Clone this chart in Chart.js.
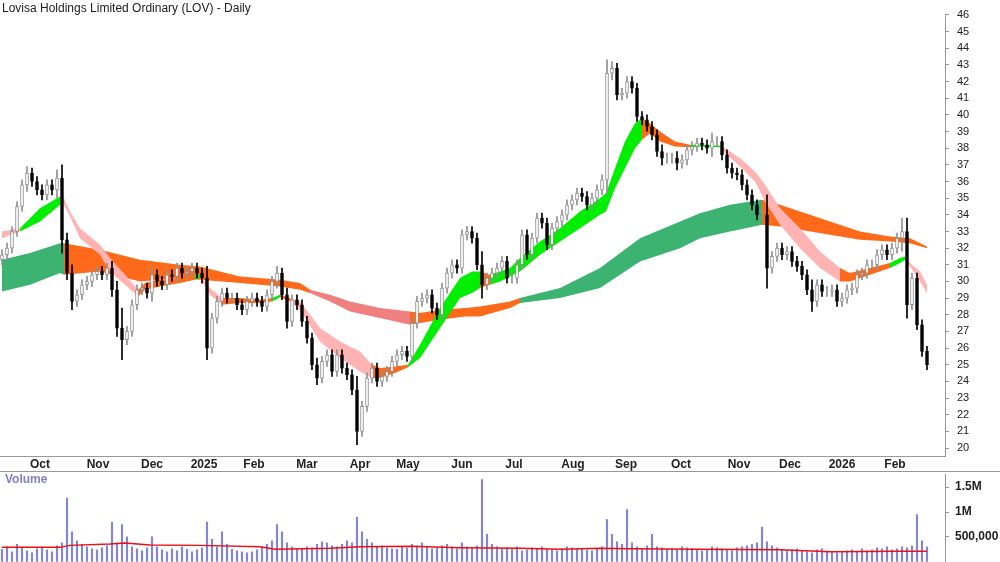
<!DOCTYPE html>
<html><head><meta charset="utf-8">
<script src="https://cdn.jsdelivr.net/npm/chart.js@4.4.1/dist/chart.umd.min.js"></script>
<style>
html,body{margin:0;padding:0;background:#fff;overflow:hidden}
#t{position:absolute;left:2px;top:1px;font:12px "Liberation Sans",Arial,sans-serif;color:#222;z-index:2}
#vl{position:absolute;left:5px;top:472px;font:bold 12px "Liberation Sans",Arial,sans-serif;color:#8080c8;z-index:2}
#c1wrap{position:absolute;left:0;top:0;width:1000px;height:472px}
#c2wrap{position:absolute;left:0;top:461px;width:1000px;height:114px}
#sep{position:absolute;left:0;top:471px;width:1000px;height:1px;background:#999}
</style></head><body>
<div id="t">Lovisa Holdings Limited Ordinary (LOV) - Daily</div>
<div id="vl">Volume</div>
<div id="c1wrap"><canvas id="c1"></canvas></div>
<div id="sep"></div>
<div id="c2wrap"><canvas id="c2"></canvas></div>
<script>
// Each bar = 2 trading days, index 0..185
const closes=[31.6,32.0,33.0,34.5,35.8,36.5,36.0,35.5,35.2,35.8,
35.5,36.2,32.5,30.5,28.8,29.2,29.8,30.0,30.4,30.6,
30.4,30.8,29.5,27.2,26.5,27.0,28.6,29.5,29.6,29.3,
30.4,30.0,29.8,30.4,30.3,30.8,30.5,30.6,30.8,30.5,
30.2,26.0,27.8,28.8,29.3,29.0,29.0,28.6,28.3,28.8,
29.0,28.8,28.5,29.2,30.0,30.5,29.2,27.6,28.9,28.6,
27.6,26.6,25.0,24.2,25.2,25.6,24.6,25.6,24.8,24.4,
23.5,21.0,22.5,24.2,24.8,24.0,24.3,24.6,25.2,25.6,
25.8,25.5,27.5,28.8,29.0,29.2,28.4,28.0,29.6,30.5,
31.0,30.8,32.8,33.0,32.6,31.0,29.8,30.2,30.5,30.8,
31.2,30.2,30.2,31.0,32.8,31.6,32.6,33.8,33.5,32.2,
33.2,33.6,34.0,34.6,34.9,35.3,35.1,34.6,35.0,35.5,
36.1,42.5,42.8,41.2,41.3,42.0,41.6,39.9,39.7,39.3,
38.8,37.8,37.4,37.4,37.4,37.1,37.3,37.9,38.1,38.3,
38.2,38.0,38.4,38.4,37.6,36.8,36.5,36.4,35.8,35.2,
34.6,34.0,34.0,30.8,31.5,32.0,31.6,31.8,31.2,30.9,
30.4,29.5,28.8,29.8,29.4,29.4,29.5,28.8,29.0,29.5,
29.6,30.4,30.5,31.0,31.0,31.6,31.9,31.6,32.0,32.6,
33.0,28.6,30.2,27.4,25.8,25.0];
const firstOpen=31.3;
const wicks=[0.3,0.3,0.3,0.3,0.3,0.4,0.3,0.3,0.3,0.3,
0.3,0.5,0.8,0.4,0.5,0.3,0.3,0.3,0.3,0.3,
0.3,0.3,0.4,0.5,1.2,0.3,0.3,0.3,0.3,0.3,
0.5,0.3,0.3,0.3,0.3,0.3,0.3,0.3,0.3,0.3,
0.3,0.7,0.3,0.3,0.3,0.3,0.3,0.3,0.3,0.3,
0.3,0.3,0.3,0.3,0.3,0.4,0.3,0.4,0.3,0.3,
0.3,0.3,0.3,0.4,0.3,0.3,0.3,0.3,0.3,0.3,
0.3,0.8,0.3,0.3,0.3,0.3,0.3,0.3,0.3,0.3,
0.3,0.3,0.3,0.3,0.3,0.3,0.3,0.3,0.3,0.3,
0.3,0.3,0.3,0.3,0.3,0.3,0.8,0.3,0.3,0.3,
0.3,0.3,0.3,0.3,0.3,0.3,0.3,0.3,0.3,0.3,
0.3,0.3,0.3,0.3,0.3,0.3,0.3,0.3,0.3,0.3,
0.3,0.8,0.4,0.3,0.3,0.3,0.3,0.3,0.3,0.3,
0.3,0.3,0.4,0.3,0.3,0.4,0.3,0.3,0.3,0.3,
0.3,0.3,0.5,0.3,0.3,0.3,0.3,0.3,0.3,0.3,
0.3,0.3,0.3,1.2,0.3,0.3,0.3,0.3,0.3,0.3,
0.3,0.3,0.6,0.3,0.3,0.3,0.3,0.3,0.3,0.3,
0.3,0.3,0.3,0.3,0.3,0.3,0.3,0.3,0.3,0.3,
0.8,0.8,0.3,0.3,0.3,0.3];
const volumes=[250,300,200,350,280,220,180,260,300,240,
200,320,380,1280,600,420,350,300,260,240,
280,320,800,380,750,500,300,260,220,280,
500,300,240,200,260,220,300,250,200,240,
280,800,450,300,600,350,250,220,200,180,
200,240,300,350,420,750,600,380,300,260,
250,300,280,350,400,380,320,300,350,420,
380,900,600,450,380,300,320,280,260,250,
300,280,350,320,380,300,260,280,320,350,
300,260,380,300,280,320,1650,550,350,300,
260,280,250,300,220,240,280,260,300,250,
240,220,260,300,280,250,270,240,220,260,
300,850,550,400,350,1050,380,300,260,320,
550,300,280,250,260,240,300,280,260,240,
220,250,300,280,260,240,220,280,300,320,
350,380,700,400,320,280,250,220,240,260,
220,200,180,240,260,220,200,180,200,220,
240,200,260,220,240,280,260,300,240,260,
300,280,320,950,420,300];
const volAvgX=[0,11.6,13.6,21.6,24.6,29.6,39.6,51.6,54.6,65.6,71.6,81.6,91.6,103.6,111.6,119.6,125.6,139.6,155.6,165.6,179.6,185];
const volAvgY=[290,290,330,360,380,340,330,300,250,270,300,310,280,270,250,270,260,250,240,200,210,210];
// month ticks (bar index) and labels
const monthPos=[7.6,19.2,30,40.4,50.4,61,71.6,81.2,92,102.4,114.2,124.8,135.8,147.4,157.6,168,178.6];
const monthLab=['Oct','Nov','Dec','2025','Feb','Mar','Apr','May','Jun','Jul','Aug','Sep','Oct','Nov','Dec','2026','Feb'];
// short-term MA band
const sX=[0,3.6,7.6,11.6,12.4,13.6,15.6,19.6,21.6,24.6,27.2,28.6,31.6,35.6,38.6,39.6,41.6,44,47.6,51.6,54,55.6,57.6,59.6,63.6,67.6,71.6,74,75.6,78.6,81.2,83.6,87.6,91.6,94,95.6,97.6,99.6,101.6,103.6,107.6,111.6,115.6,119.6,120.8,122.6,124.6,126.6,128,129.6,131.6,134.6,137.6,139.6,143.6,144.6,147.6,150.6,152.6,155.6,159.6,163.6,167.6,169.6,173.6,177.6,179.6,180.6,181.6,183.6,185];
const sHi=[33.0,33.2,34.4,35.1,35.0,34.2,33.2,32.2,31.4,30.4,29.5,29.9,30.1,30.2,30.4,30.4,29.6,29.0,29.0,28.9,29.0,29.2,29.0,28.8,27.2,26.4,25.8,25.0,24.8,24.9,25.0,26.2,28.4,30.2,30.6,30.6,30.4,30.6,30.8,31.4,32.4,33.2,34.2,35.0,35.3,36.8,38.4,39.5,39.8,39.5,39.0,38.4,38.2,38.2,38.15,38.0,37.4,36.6,35.8,34.4,33.2,31.8,30.8,30.5,30.8,31.1,31.4,31.5,31.1,30.6,29.8];
const sLo=[32.6,33.0,33.6,34.6,34.6,33.9,32.6,31.6,30.6,29.8,29.1,29.5,29.7,29.9,30.1,30.25,29.2,28.6,28.7,28.7,28.8,29.05,28.8,28.3,26.4,25.4,24.6,24.2,24.2,24.5,24.85,25.4,27.2,29.0,29.3,29.6,29.8,30.0,30.3,30.6,31.6,32.4,33.2,34.0,34.2,35.6,36.8,38.0,38.5,38.9,38.4,38.1,38.05,38.1,38.05,37.7,36.9,36.0,34.8,33.4,32.0,30.8,30.0,30.0,30.4,30.8,31.1,31.3,30.9,30.0,29.3];
const sCol='PGGPPPPPPPOOOOGPPOOOGOPPPPPOOOGGGGGOGGGGGGGGGGGGOOOOGGPPPPPPPPOOOGGPPPP';
// long-term MA band
const lX=[0,5.6,11.6,12.4,19.6,27.6,35.6,39.6,47.6,55.6,59.6,61.6,65.6,69.6,75.6,81.6,83.6,87.6,92.6,95.6,101.6,103.6,111.6,119.6,127.6,135.6,139.6,145.6,152,155.6,159.6,165.6,171.6,177.6,181.6,185];
const lHi=[31.3,31.7,32.3,32.3,31.9,31.3,31.0,30.9,30.3,30.1,29.9,29.5,29.2,28.8,28.4,28.2,28.1,28.3,28.4,28.5,28.8,29.0,29.6,30.8,32.6,33.6,34.1,34.6,34.9,34.6,34.2,33.6,33.0,32.7,32.6,32.1];
const lLo=[29.4,29.8,30.5,30.4,30.6,30.0,30.2,30.1,29.9,29.7,29.5,29.3,28.8,28.2,27.8,27.4,27.5,27.7,27.9,27.9,28.4,28.7,29.0,29.6,31.2,32.0,32.6,33.0,33.4,33.3,33.1,32.8,32.5,32.4,32.3,32.0];
const lCol='DDDOOOOOOOOSSSSOOOOOODDDDDDDOOOOOOOO';
const COL={G:'#00ee00',P:'#ffb3b3',O:'#ff6a1a',D:'#3cb371',S:'#f08080'};

const opens=closes.map((c,i)=>i===0?firstOpen:closes[i-1]);
const body=closes.map((c,i)=>({x:i,y:[opens[i],c]}));
const wick=closes.map((c,i)=>({x:i,y:[Math.min(opens[i],c)-wicks[i],Math.max(opens[i],c)+wicks[i]]}));
const up=closes.map((c,i)=>c>=opens[i]);
function band(xs,hi,lo,cols,ord){
  return [{type:'line',data:xs.map((x,i)=>({x,y:hi[i]})),borderWidth:0,pointRadius:0,fill:'+1',order:ord,
    backgroundColor:COL[cols[0]],segment:{backgroundColor:c=>COL[cols[c.p0DataIndex]],borderColor:'rgba(0,0,0,0)'},borderColor:'rgba(0,0,0,0)'},
   {type:'line',data:xs.map((x,i)=>({x,y:lo[i]})),borderWidth:0,pointRadius:0,fill:false,order:ord,borderColor:'rgba(0,0,0,0)'}];
}
const XMIN=-0.4,XMAX=188.6;
const fnt={family:'"Liberation Sans", Arial, sans-serif',size:11};
const bfnt={family:'"Liberation Sans Narrow","Liberation Sans",Arial,sans-serif',size:12,weight:'bold'};
new Chart(document.getElementById('c1'),{
  data:{datasets:[
    ...band(lX,lHi,lLo,lCol,20),
    ...band(sX,sHi,sLo,sCol,10),
    {type:'bar',data:wick,grouped:false,barThickness:1,order:2,backgroundColor:up.map(u=>u?'#909090':'#000')},
    {type:'bar',data:body,grouped:false,barThickness:3,order:1,backgroundColor:up.map(u=>u?'#ffffff':'#000'),borderColor:up.map(u=>u?'#909090':'#000'),borderWidth:{left:1,right:1,top:1,bottom:1},borderSkipped:false}
  ]},
  options:{responsive:true,maintainAspectRatio:false,animation:false,
    layout:{padding:0},
    plugins:{legend:{display:false},tooltip:{enabled:false}},
    scales:{
      x:{type:'linear',min:XMIN,max:XMAX,offset:false,
        afterBuildTicks:s=>{s.ticks=monthPos.map(v=>({value:v}));},
        afterFit:s=>{s.height=16;},
        ticks:{autoSkip:false,maxRotation:0,padding:1,color:'#222',font:bfnt,callback:(v,i)=>monthLab[i]},
        grid:{display:false,drawTicks:false,tickLength:0},border:{display:true,color:'#999'}},
      y:{position:'right',min:19.52,max:46.02,
        afterBuildTicks:s=>{const t=[];for(let v=20;v<=46;v++)t.push({value:v});s.ticks=t;},
        afterFit:s=>{s.width=55;},
        ticks:{autoSkip:false,padding:8,color:'#222',font:fnt},
        grid:{drawOnChartArea:false,drawTicks:true,tickLength:4,color:'#999'},border:{display:true,color:'#999'}}
    }}
});
new Chart(document.getElementById('c2'),{
  data:{datasets:[
    {type:'line',data:volAvgX.map((x,i)=>({x,y:volAvgY[i]*1000})),borderColor:'#ee1111',borderWidth:1.5,pointRadius:0,order:1},
    {type:'bar',data:volumes.map((v,i)=>({x:i,y:v*1000})),barThickness:1.5,grouped:false,backgroundColor:'#8585d6',order:2}
  ]},
  options:{responsive:true,maintainAspectRatio:false,animation:false,
    layout:{padding:0},
    plugins:{legend:{display:false},tooltip:{enabled:false}},
    scales:{
      x:{type:'linear',min:XMIN,max:XMAX,offset:false,afterFit:s=>{s.height=0;},
        ticks:{display:false},grid:{display:false,drawTicks:false},border:{display:false}},
      y:{position:'right',min:0,max:1760000,
        afterBuildTicks:s=>{s.ticks=[500000,1000000,1500000].map(v=>({value:v}));},
        afterFit:s=>{s.width=55;},
        ticks:{padding:6,color:'#222',font:bfnt,callback:v=>v===500000?'500,000':(v/1e6)+'M'},
        grid:{drawOnChartArea:false,tickLength:4,color:'#999'},border:{display:true,color:'#999'}}
    }}
});
</script>
</body></html>
